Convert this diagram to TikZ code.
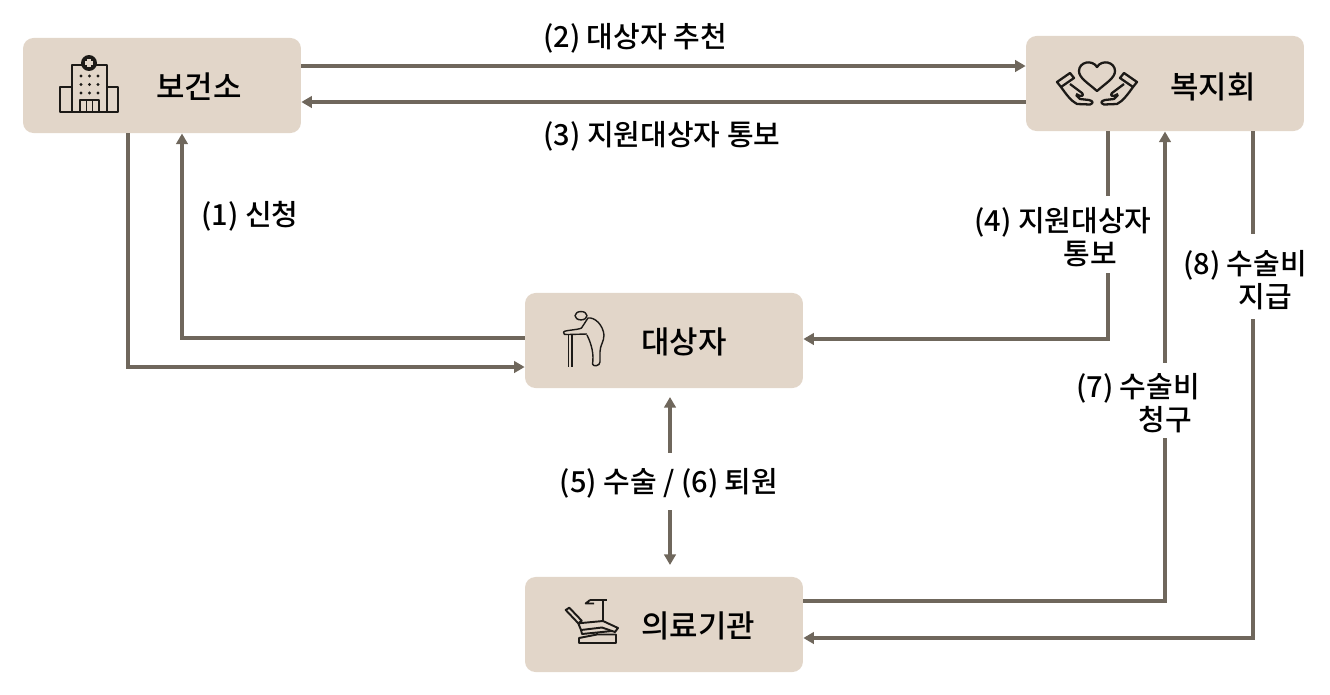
\documentclass[tikz,border=0pt]{standalone}
\usepackage{fontspec}
\setmainfont{Noto Sans CJK KR Medium}
\usetikzlibrary{calc}
\usetikzlibrary{arrows.meta}
\definecolor{boxfill}{HTML}{E2D6C9}
\definecolor{linecol}{HTML}{6F675C}
\definecolor{iconcol}{HTML}{1C1A17}
\tikzset{
  place/.style={fill=boxfill, rounded corners=6pt, minimum width=158.2pt, minimum height=54.1pt, inner sep=0pt},
  title/.style={font=\fontsize{17.6}{20}\selectfont, text=black, inner sep=0pt},
  conn/.style={draw=linecol, line width=1.75pt, -{Triangle[length=6pt,width=6.5pt]}},
  bothconn/.style={draw=linecol, line width=1.75pt, {Triangle[length=6pt,width=6.5pt]}-{Triangle[length=6pt,width=6.5pt]}},
  lab/.style={font=\fontsize{16.5}{18.7}\selectfont, text=black, inner sep=0pt, align=center},
  gap/.style={fill=white, inner sep=0pt},
  icon/.style={draw=iconcol, line width=1.1pt, line join=round}
}
\begin{document}
\begin{tikzpicture}[x=0.02cm,y=-0.02cm]
\useasboundingbox (0,0) rectangle (1330,694);

% boxes
\node[place] (HC) at (162,85.5) {};
\node[place] (WF) at (1165,83.5) {};
\node[place] (PT) at (664,340.5) {};
\node[place] (MD) at (664,624.5) {};

\node[title] (HCT) at (199,87) {보건소};
\node[title] (WFT) at (1213,87) {복지회};
\node[title] (PTT) at (684,342) {대상자};
\node[title] (MDT) at (698,626) {의료기관};

% free ends
\coordinate (UP) at (670,397);
\coordinate (DN) at (670,565);

% connectors
\draw[conn] (HC.east |- 0,66) -- (WF.west |- 0,66);
\draw[conn] (WF.west |- 0,102) -- (HC.east |- 0,102);
\draw[conn] (PT.west |- 0,338) -- (182,338) -- (182,133.5);
\draw[conn] (128,133) -- (128,367) -- (PT.west |- 0,367);
\draw[conn] (1108,131) -- (1108,339) -- (PT.east |- 0,339);
\draw[conn] (MD.east |- 0,601) -- (1165,601) -- (1165,131.5);
\draw[conn] (1253,131) -- (1253,638) -- (MD.east |- 0,638);
\draw[bothconn] (UP) -- (DN);

% labels
\node[lab] (L2) at (635,38) {(2) 대상자 추천};
\node[lab] (L3) at (662,136) {(3) 지원대상자 통보};
\node[lab] (L1) at (250,216) {(1) 신청};
\node[gap,minimum width=101pt,minimum height=43.6pt] (G4) at (1063,234.5) {};
\node[lab] (L4) at (1063,237) {(4) 지원대상자\\\hspace*{1.9em}통보};
\node[gap,minimum width=62pt,minimum height=48pt] (G8) at (1245,276.5) {};
\node[lab] (L8) at (1245,280) {(8) 수술비\\\hspace*{1.4em}지급};
\node[gap,minimum width=70pt,minimum height=42.5pt] (G7) at (1138,400.5) {};
\node[lab] (L7) at (1138,403) {(7) 수술비\\\hspace*{1.9em}청구};
\node[gap,minimum width=127pt,minimum height=32pt] (G5) at (669,481.5) {};
\node[lab] (L5) at (669,483) {(5) 수술 / (6) 퇴원};

% hospital
\begin{scope}[icon]
  \draw (72,112) -- (60,112) -- (60,87) -- (72,87);
  \draw (107,112) -- (118,112) -- (118,87) -- (107,87);
  \draw (60,112) -- (118,112);
  \draw (72,112) -- (72,65) -- (83,65);
  \draw (95,65) -- (107,65) -- (107,112);
  \draw[fill=iconcol] (89,63) circle (7);
  \draw[boxfill,line width=1.8pt] (89,59) -- (89,67) (85,63) -- (93,63);
  \draw (80,112) -- (80,100) -- (99,100) -- (99,112);
  \draw (86.5,100) -- (86.5,112) (92.5,100) -- (92.5,112);
  \foreach \dx in {81,89.5,98} \foreach \dy in {76,84.5,93}
    \fill[iconcol] (\dx,\dy) circle (1.7);
\end{scope}

% hands and heart
\begin{scope}[icon, line width=1.3pt]
  \draw (1097,91) .. controls (1088,83) and (1079,78) .. (1079,71) .. controls (1079,62) and (1092,59) .. (1097,67) .. controls (1102,59) and (1115,62) .. (1115,71) .. controls (1115,78) and (1106,83) .. (1097,91) -- cycle;
  \foreach \s in {1,-1} {
    \begin{scope}[shift={(1097,0)},xscale=\s]
      \draw (-40,82) -- (-27,73) -- (-23,78) -- (-36,87) -- cycle;
      \draw (-36,87) .. controls (-31,94) and (-26,101) .. (-20,104) -- (-7,104.5) .. controls (-3,103) and (-4,101) .. (-8,100) -- (-17,99) -- (-21,95);
      \draw (-27,84) -- (-15,93) .. controls (-13,95) and (-15,97) .. (-17,96) -- (-21,94);
    \end{scope}
  }
\end{scope}

% elderly person
\begin{scope}[icon, line width=0.8pt]
  \draw (581,315.7) ellipse (6 and 4.2);
  \draw (563.5,332) .. controls (565,330) and (578,330) .. (581.5,328) -- (588,318) .. controls (595,317) and (603,325) .. (604,335) .. controls (604,342) and (600,345) .. (600,352) -- (600,362) .. controls (600,366) and (593,367) .. (592.5,364) .. controls (594,355) and (592,345) .. (587,335);
  \draw (563.5,332) .. controls (563,335) and (565,334.5) .. (568,334.5) -- (587,334);
  \draw[line width=0.9pt] (568.5,335) -- (568.5,367) (572,335) -- (572,367);
\end{scope}

% dental chair
\begin{scope}[icon]
  \draw (565.7,610) -- (569.3,607.7) -- (581.7,620.7) -- (578.3,623.3) -- cycle;
  \draw (578.3,623.3) -- (603,621) -- (618,628) -- (615,632) -- (602,627.5) -- (581,630) -- cycle;
  \draw (581,630) -- (582,634) -- (612,631);
  \draw (602.7,600) -- (602.7,621);
  \draw (590,600) -- (607,600);
  \draw (590,600) -- (585.7,603.5) -- (594,603.5);
  \draw (597,632) -- (597,635);
  \draw (579,643) -- (579,638) -- (597,634.5) -- (616,634.5) -- (616,643) -- cycle;
\end{scope}
\end{tikzpicture}
\end{document}
